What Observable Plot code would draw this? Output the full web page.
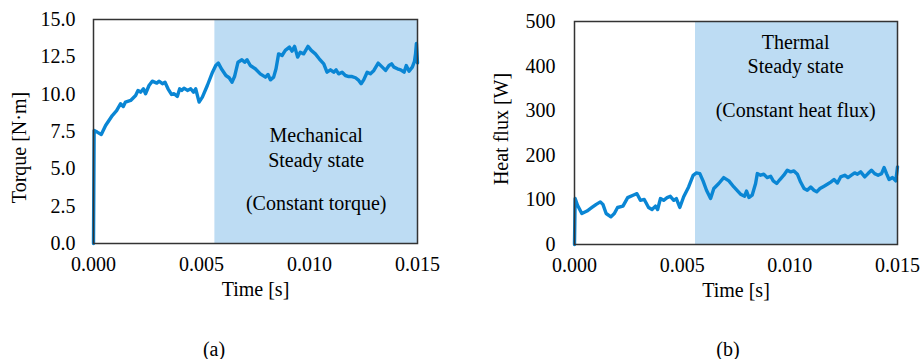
<!DOCTYPE html>
<html><head><meta charset="utf-8">
<script src="https://cdn.jsdelivr.net/npm/d3@7"></script>
<script src="https://cdn.jsdelivr.net/npm/@observablehq/plot@0.6"></script>
<style>
body{margin:0;background:#fff;}
#wrap{position:relative;width:921px;height:359px;font-family:"Liberation Serif","Times New Roman",serif;}
.panel{position:absolute;top:0;}
.cap{position:absolute;font-size:20px;transform:translate(-50%,-50%);color:#000;}
</style></head>
<body><div id="wrap"></div>
<script>
// Torque (panel a)
const torqueTime = [0,0.00003,0.00017,0.00036,0.00056,0.00087,0.00107,0.00125,0.00138,0.00148,0.00172,0.00195,0.00206,0.00218,0.00231,0.00241,0.00257,0.00272,0.00293,0.00303,0.00319,0.00331,0.00345,0.00361,0.00373,0.00388,0.00399,0.00409,0.00419,0.00435,0.00450,0.00463,0.00473,0.00489,0.00504,0.00527,0.00551,0.00566,0.00578,0.00592,0.00613,0.00628,0.00641,0.00653,0.00669,0.00687,0.00700,0.00711,0.00726,0.00749,0.00772,0.00796,0.00808,0.00819,0.00834,0.00845,0.00857,0.00873,0.00888,0.00907,0.00919,0.00931,0.00945,0.00957,0.00973,0.00993,0.01008,0.01027,0.01045,0.01066,0.01081,0.01097,0.01112,0.01123,0.01135,0.01151,0.01166,0.01182,0.01197,0.01213,0.01228,0.01239,0.01251,0.01267,0.01282,0.01298,0.01318,0.01337,0.01352,0.01368,0.01380,0.01391,0.01407,0.01422,0.01438,0.01448,0.01461,0.01476,0.01486,0.01491,0.01495,0.01500];
const torqueValue = [0,7.57,7.46,7.3,7.9,8.57,8.9,9.36,9.17,9.47,9.58,9.91,10.25,10.13,10.36,10.03,10.58,10.87,10.74,10.87,10.7,10.8,10.36,9.98,10.03,9.85,10.36,10.25,10.4,10.25,10.36,10.13,10.36,9.47,9.8,10.58,11.47,11.92,12.08,11.7,11.25,11.1,10.8,11.18,12.14,12.3,12.14,12.3,11.92,11.7,11.36,11.14,11.32,10.96,11.14,11.7,12.7,12.59,12.93,13.15,12.88,13.2,12.48,12.81,12.7,13.2,12.93,12.7,12.37,12.03,11.47,11.63,11.47,11.63,11.36,11.47,11.25,11.18,11.18,11.1,10.92,10.7,10.96,11.47,11.36,11.59,12.08,11.81,11.59,11.92,12.03,11.81,11.7,11.63,11.47,11.92,11.54,11.81,12.2,12.7,13.4,12.1];

// Heat flux (panel b)
const heatTime = [0,0.00003,0.00014,0.00034,0.00058,0.00081,0.00101,0.00120,0.00132,0.00147,0.00169,0.00185,0.00200,0.00225,0.00247,0.00272,0.00290,0.00306,0.00324,0.00344,0.00360,0.00376,0.00386,0.00399,0.00414,0.00430,0.00445,0.00461,0.00473,0.00489,0.00507,0.00530,0.00551,0.00566,0.00582,0.00597,0.00613,0.00632,0.00647,0.00670,0.00693,0.00717,0.00740,0.00771,0.00790,0.00799,0.00810,0.00825,0.00841,0.00849,0.00864,0.00879,0.00895,0.00911,0.00923,0.00939,0.00954,0.00972,0.00988,0.01004,0.01019,0.01035,0.01050,0.01066,0.01081,0.01097,0.01112,0.01125,0.01140,0.01159,0.01174,0.01190,0.01205,0.01221,0.01236,0.01255,0.01270,0.01286,0.01301,0.01314,0.01329,0.01348,0.01363,0.01379,0.01394,0.01410,0.01426,0.01438,0.01449,0.01461,0.01477,0.01492,0.01500];
const heatValue = [0,103,88,69.5,75,83,90,95.5,90,69.5,62,69.5,83,86,105,110.5,114,99,101,83,78.5,86,78.5,103,99,105,108,99,103,83,107,129,155,160.5,159,142.6,121.7,103,125.5,136.8,150,142.6,129,112.8,108.3,120,105.4,110.5,136.8,159,155.4,157.6,150,153,142.6,136.8,145.7,155.4,166.6,162.8,165,157.6,140,125.5,121.7,129,121.7,118,125.5,130.7,135,140,145.7,138,151.5,155.4,150,155.4,160.5,157.6,162.8,151.5,159,166.6,159,155.4,159,172.6,159,145.7,150,142.6,174];

// Steady-state windows
const steadyStart = [0.00562];
const steadyEnd = [0.015];

// Tick values
const timeTicks = [0, 0.005, 0.010, 0.015];
const torqueTicks = [0, 2.5, 5, 7.5, 10, 12.5, 15];
const heatTicks = [0, 100, 200, 300, 400, 500];

// Annotations
const torqueNoteText = ["Mechanical", "Steady state", "(Constant torque)"];
const torqueNoteT = [0.01031, 0.01031, 0.01031];
const torqueNoteV = [7.23, 5.56, 2.68];
const heatNoteText = ["Thermal", "Steady state", "(Constant heat flux)"];
const heatNoteT = [0.01027, 0.01027, 0.01027];
const heatNoteV = [453, 400, 301];

const LINE = "#0a86d4", SHADE = "#bddcf3";
const FONT = "Liberation Serif, Times New Roman, serif";

function panel({times, values, yMax, yTicks, yFmt, yLabel, notesText, notesT, notesV, width, ml, mr, mt, mb, ylabelDx, ylabelDy, ytickPad}) {
  const data = times.map((t, i) => ({t, v: values[i]}));
  const notes = notesText.map((s, i) => ({s, t: notesT[i], v: notesV[i]}));
  const shade = steadyStart.map((s, i) => ({x1: s, x2: steadyEnd[i]}));
  return Plot.plot({
    width, height: 310,
    marginLeft: ml, marginRight: mr, marginTop: mt, marginBottom: mb,
    style: {fontFamily: FONT, fontSize: "20px", color: "#000", background: "transparent"},
    x: {domain: [0, 0.015], ticks: timeTicks, tickFormat: d3.format(".3f")},
    y: {domain: [0, yMax], ticks: yTicks, tickFormat: yFmt},
    marks: [
      Plot.rectX(shade, {x1: "x1", x2: "x2", y1: 0, y2: yMax, fill: SHADE}),
      Plot.line(data, {x: "t", y: "v", stroke: LINE, strokeWidth: 3.4, strokeLinejoin: "round"}),
      Plot.text(notes, {x: "t", y: "v", text: "s", fontSize: 20, fill: "#000"}),
      Plot.frame({stroke: "#333", strokeWidth: 1.5}),
      Plot.axisX({ticks: timeTicks, tickFormat: d3.format(".3f"), tickSize: 0, tickPadding: 13, label: "Time [s]", labelAnchor: "center", labelArrow: "none", labelOffset: 52, fontSize: 20}),
      Plot.axisY({ticks: yTicks, tickFormat: yFmt, tickSize: 0, tickPadding: ytickPad, label: null, fontSize: 20}),
      Plot.text([yLabel], {frameAnchor: "left", textAnchor: "middle", lineAnchor: "middle", rotate: -90, dx: ylabelDx, dy: ylabelDy, fontSize: 20, fill: "#000"})
    ]
  });
}

const wrap = document.getElementById("wrap");
const a = panel({times: torqueTime, values: torqueValue, yMax: 15, yTicks: torqueTicks, yFmt: d3.format(".1f"), yLabel: "Torque [N·m]", notesText: torqueNoteText, notesT: torqueNoteT, notesV: torqueNoteV, width: 460, ml: 93, mr: 43, mt: 19, mb: 67, ylabelDx: -74, ylabelDy: 16, ytickPad: 18});
const b = panel({times: heatTime, values: heatValue, yMax: 500, yTicks: heatTicks, yFmt: d3.format("d"), yLabel: "Heat flux [W]", notesText: heatNoteText, notesT: heatNoteT, notesV: heatNoteV, width: 461, ml: 114, mr: 24, mt: 21, mb: 66, ylabelDx: -73, ylabelDy: -4, ytickPad: 19});
a.classList.add("panel"); a.style.left = "0px";
b.classList.add("panel"); b.style.left = "460px";
wrap.appendChild(a); wrap.appendChild(b);
const ca = document.createElement("div"); ca.className = "cap"; ca.textContent = "(a)"; ca.style.left = "214px"; ca.style.top = "349px";
const cb = document.createElement("div"); cb.className = "cap"; cb.textContent = "(b)"; cb.style.left = "728px"; cb.style.top = "349px";
wrap.appendChild(ca); wrap.appendChild(cb);
</script></body></html>
